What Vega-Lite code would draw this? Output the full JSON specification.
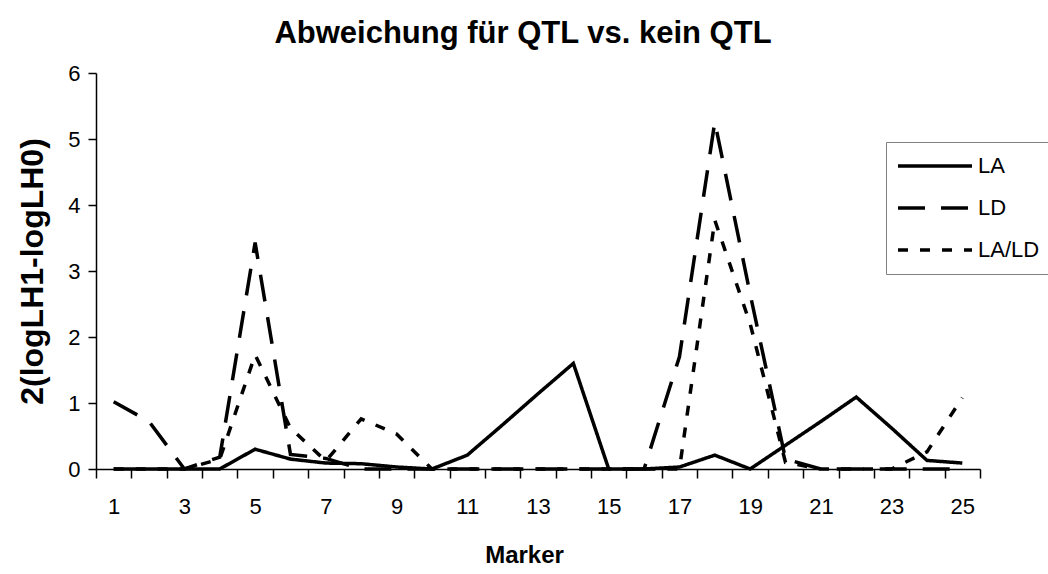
{
  "$schema": "https://vega.github.io/schema/vega-lite/v6.json",
  "width": 884,
  "height": 396,
  "autosize": {"type": "none"},
  "padding": {"left": 96, "top": 73, "right": 68, "bottom": 105},
  "background": "white",
  "title": {
    "text": "Abweichung für QTL vs. kein QTL",
    "font": "Liberation Sans",
    "fontSize": 31,
    "fontWeight": "bold",
    "color": "black",
    "anchor": "middle",
    "offset": 12,
    "dx": -15
  },
  "config": {
    "view": {"stroke": null},
    "axis": {
      "domainColor": "black",
      "domainWidth": 1.5,
      "tickColor": "black",
      "tickWidth": 1.5,
      "labelFont": "Liberation Sans",
      "labelFontSize": 22,
      "labelColor": "black",
      "titleFont": "Liberation Sans",
      "titleFontSize": 24,
      "titleFontWeight": "bold",
      "titleColor": "black",
      "grid": false
    },
    "legend": {
      "orient": "none",
      "legendX": 790,
      "legendY": 69,
      "strokeColor": "#808080",
      "fillColor": "white",
      "padding": 10,
      "labelFont": "Liberation Sans",
      "labelFontSize": 22,
      "labelColor": "black",
      "symbolType": "stroke",
      "symbolSize": 5476,
      "symbolStrokeWidth": 3.5,
      "symbolStrokeColor": "black",
      "clipHeight": 28,
      "rowPadding": 14,
      "labelOffset": 4,
      "title": null
    }
  },
  "data": {
    "values": [
      {"marker": 1, "series": "LA", "value": 0},
      {"marker": 2, "series": "LA", "value": 0},
      {"marker": 3, "series": "LA", "value": 0},
      {"marker": 4, "series": "LA", "value": 0},
      {"marker": 5, "series": "LA", "value": 0.30},
      {"marker": 6, "series": "LA", "value": 0.15},
      {"marker": 7, "series": "LA", "value": 0.09},
      {"marker": 8, "series": "LA", "value": 0.08},
      {"marker": 9, "series": "LA", "value": 0.03},
      {"marker": 10, "series": "LA", "value": 0},
      {"marker": 11, "series": "LA", "value": 0.21},
      {"marker": 12, "series": "LA", "value": 0.67},
      {"marker": 13, "series": "LA", "value": 1.14},
      {"marker": 14, "series": "LA", "value": 1.60},
      {"marker": 15, "series": "LA", "value": 0},
      {"marker": 16, "series": "LA", "value": 0},
      {"marker": 17, "series": "LA", "value": 0.03},
      {"marker": 18, "series": "LA", "value": 0.21},
      {"marker": 19, "series": "LA", "value": 0},
      {"marker": 20, "series": "LA", "value": 0.36},
      {"marker": 21, "series": "LA", "value": 0.72},
      {"marker": 22, "series": "LA", "value": 1.09},
      {"marker": 23, "series": "LA", "value": 0.62},
      {"marker": 24, "series": "LA", "value": 0.13},
      {"marker": 25, "series": "LA", "value": 0.09},
      {"marker": 1, "series": "LD", "value": 1.02},
      {"marker": 2, "series": "LD", "value": 0.72},
      {"marker": 3, "series": "LD", "value": 0},
      {"marker": 4, "series": "LD", "value": 0.18},
      {"marker": 5, "series": "LD", "value": 3.43},
      {"marker": 6, "series": "LD", "value": 0.22},
      {"marker": 7, "series": "LD", "value": 0.16},
      {"marker": 8, "series": "LD", "value": 0},
      {"marker": 9, "series": "LD", "value": 0},
      {"marker": 10, "series": "LD", "value": 0},
      {"marker": 11, "series": "LD", "value": 0},
      {"marker": 12, "series": "LD", "value": 0},
      {"marker": 13, "series": "LD", "value": 0},
      {"marker": 14, "series": "LD", "value": 0},
      {"marker": 15, "series": "LD", "value": 0},
      {"marker": 16, "series": "LD", "value": 0},
      {"marker": 17, "series": "LD", "value": 1.70},
      {"marker": 18, "series": "LD", "value": 5.26},
      {"marker": 19, "series": "LD", "value": 2.65},
      {"marker": 20, "series": "LD", "value": 0.15},
      {"marker": 21, "series": "LD", "value": 0},
      {"marker": 22, "series": "LD", "value": 0},
      {"marker": 23, "series": "LD", "value": 0},
      {"marker": 24, "series": "LD", "value": 0},
      {"marker": 25, "series": "LD", "value": 0},
      {"marker": 1, "series": "LA/LD", "value": 0},
      {"marker": 2, "series": "LA/LD", "value": 0},
      {"marker": 3, "series": "LA/LD", "value": 0},
      {"marker": 4, "series": "LA/LD", "value": 0.15},
      {"marker": 5, "series": "LA/LD", "value": 1.73},
      {"marker": 6, "series": "LA/LD", "value": 0.62},
      {"marker": 7, "series": "LA/LD", "value": 0.12},
      {"marker": 8, "series": "LA/LD", "value": 0.76},
      {"marker": 9, "series": "LA/LD", "value": 0.53},
      {"marker": 10, "series": "LA/LD", "value": 0},
      {"marker": 11, "series": "LA/LD", "value": 0},
      {"marker": 12, "series": "LA/LD", "value": 0},
      {"marker": 13, "series": "LA/LD", "value": 0},
      {"marker": 14, "series": "LA/LD", "value": 0},
      {"marker": 15, "series": "LA/LD", "value": 0},
      {"marker": 16, "series": "LA/LD", "value": 0},
      {"marker": 17, "series": "LA/LD", "value": 0},
      {"marker": 18, "series": "LA/LD", "value": 3.77},
      {"marker": 19, "series": "LA/LD", "value": 2.2},
      {"marker": 20, "series": "LA/LD", "value": 0.1},
      {"marker": 21, "series": "LA/LD", "value": 0},
      {"marker": 22, "series": "LA/LD", "value": 0},
      {"marker": 23, "series": "LA/LD", "value": 0},
      {"marker": 24, "series": "LA/LD", "value": 0.26},
      {"marker": 25, "series": "LA/LD", "value": 1.08}
    ]
  },
  "mark": {"type": "line", "strokeWidth": 3.5, "color": "black", "strokeCap": "butt", "strokeJoin": "miter"},
  "encoding": {
    "x": {
      "field": "marker",
      "type": "quantitative",
      "scale": {"domain": [0.5, 25.5], "nice": false, "zero": false},
      "axis": {
        "title": "Marker",
        "titleX": 428,
        "values": [0.5, 1.5, 2.5, 3.5, 4.5, 5.5, 6.5, 7.5, 8.5, 9.5, 10.5, 11.5, 12.5, 13.5, 14.5, 15.5, 16.5, 17.5, 18.5, 19.5, 20.5, 21.5, 22.5, 23.5, 24.5, 25.5],
        "labelExpr": "(datum.value + 0.5) % 2 == 1 && datum.value < 25 ? format(datum.value + 0.5, 'd') : ''",
        "labelOffset": 17.68,
        "labelFlush": false,
        "labelOverlap": false,
        "tickSize": 9,
        "labelPadding": 18,
        "titlePadding": 26
      }
    },
    "y": {
      "field": "value",
      "type": "quantitative",
      "scale": {"domain": [0, 6], "nice": false},
      "axis": {
        "title": "2(logLH1-logLH0)",
        "titleFontSize": 32,
        "values": [0, 1, 2, 3, 4, 5, 6],
        "tickSize": 8,
        "labelPadding": 8,
        "titlePadding": 18
      }
    },
    "strokeDash": {
      "field": "series",
      "type": "nominal",
      "scale": {"domain": ["LA", "LD", "LA/LD"], "range": [[1, 0], [27, 16], [10, 12]]},
      "legend": {}
    }
  }
}
